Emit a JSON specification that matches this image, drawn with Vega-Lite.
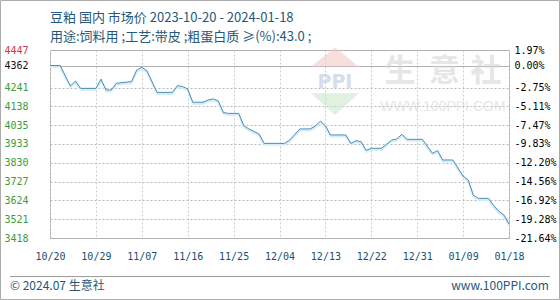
{
  "$schema": "https://vega.github.io/schema/vega-lite/v6.json",
  "width": 459,
  "height": 188,
  "autosize": {"type": "none"},
  "padding": {"left": 50, "top": 50, "right": 51, "bottom": 62},
  "background": "white",
  "config": {"view": {"stroke": "#aaaaaa", "strokeWidth": 1}},
  "title": {
    "text": "豆粕 国内 市场价 2023-10-20 - 2024-01-18",
    "subtitle": "用途:饲料用 ;工艺:带皮 ;粗蛋白质 ≥(%):43.0 ;",
    "anchor": "start",
    "frame": "group",
    "font": "Noto Sans CJK SC",
    "fontSize": 13,
    "fontWeight": "normal",
    "color": "#25587a",
    "subtitleFont": "Noto Sans CJK SC",
    "subtitleFontSize": 13,
    "subtitleColor": "#25587a",
    "subtitlePadding": 6,
    "offset": -44
  },
  "datasets": {
    "prices": [
      {"date": "2023-10-20", "price": 4362},
      {"date": "2023-10-22", "price": 4362},
      {"date": "2023-10-24", "price": 4250},
      {"date": "2023-10-25", "price": 4277},
      {"date": "2023-10-26", "price": 4237},
      {"date": "2023-10-29", "price": 4237},
      {"date": "2023-10-30", "price": 4287},
      {"date": "2023-10-31", "price": 4228},
      {"date": "2023-11-01", "price": 4228},
      {"date": "2023-11-02", "price": 4265},
      {"date": "2023-11-05", "price": 4274},
      {"date": "2023-11-06", "price": 4337},
      {"date": "2023-11-07", "price": 4352},
      {"date": "2023-11-08", "price": 4333},
      {"date": "2023-11-10", "price": 4215},
      {"date": "2023-11-13", "price": 4215},
      {"date": "2023-11-14", "price": 4252},
      {"date": "2023-11-15", "price": 4247},
      {"date": "2023-11-16", "price": 4234},
      {"date": "2023-11-17", "price": 4161},
      {"date": "2023-11-19", "price": 4161},
      {"date": "2023-11-20", "price": 4173},
      {"date": "2023-11-21", "price": 4179},
      {"date": "2023-11-22", "price": 4168},
      {"date": "2023-11-23", "price": 4105},
      {"date": "2023-11-24", "price": 4100},
      {"date": "2023-11-26", "price": 4100},
      {"date": "2023-11-27", "price": 4033},
      {"date": "2023-11-28", "price": 4015},
      {"date": "2023-11-30", "price": 3987},
      {"date": "2023-12-01", "price": 3936},
      {"date": "2023-12-05", "price": 3936},
      {"date": "2023-12-06", "price": 3954},
      {"date": "2023-12-08", "price": 4015},
      {"date": "2023-12-10", "price": 4015},
      {"date": "2023-12-11", "price": 4030},
      {"date": "2023-12-12", "price": 4058},
      {"date": "2023-12-13", "price": 4032},
      {"date": "2023-12-14", "price": 3982},
      {"date": "2023-12-17", "price": 3982},
      {"date": "2023-12-18", "price": 3936},
      {"date": "2023-12-19", "price": 3951},
      {"date": "2023-12-20", "price": 3945},
      {"date": "2023-12-21", "price": 3898},
      {"date": "2023-12-22", "price": 3909},
      {"date": "2023-12-24", "price": 3909},
      {"date": "2023-12-26", "price": 3954},
      {"date": "2023-12-27", "price": 3960},
      {"date": "2023-12-28", "price": 3986},
      {"date": "2023-12-29", "price": 3958},
      {"date": "2024-01-01", "price": 3958},
      {"date": "2024-01-03", "price": 3882},
      {"date": "2024-01-04", "price": 3896},
      {"date": "2024-01-05", "price": 3845},
      {"date": "2024-01-07", "price": 3845},
      {"date": "2024-01-09", "price": 3757},
      {"date": "2024-01-10", "price": 3736},
      {"date": "2024-01-11", "price": 3653},
      {"date": "2024-01-12", "price": 3635},
      {"date": "2024-01-14", "price": 3635},
      {"date": "2024-01-15", "price": 3595},
      {"date": "2024-01-16", "price": 3565},
      {"date": "2024-01-17", "price": 3544},
      {"date": "2024-01-18", "price": 3495}
    ]
  },
  "layer": [
    {
      "data": {"name": "prices"},
      "mark": {"type": "line", "color": "#d3edf8", "strokeWidth": 2, "yOffset": 1.5},
      "encoding": {
        "x": {
          "field": "date", "type": "temporal", "title": null,
          "scale": {"type": "utc", "domain": [{"year": 2023, "month": 10, "date": 20, "utc": true}, {"year": 2024, "month": 1, "date": 18, "utc": true}]}
        },
        "y": {
          "field": "price", "type": "quantitative", "title": null,
          "scale": {"domain": [3418, 4447], "zero": false, "nice": false},
          "axis": {
            "orient": "right",
            "title": null,
            "values": [4447, 4362, 4241, 4138, 4035, 3933, 3830, 3727, 3624, 3521, 3418],
            "labelExpr": "datum.value == 4447 ? '1.97%' : datum.value == 4362 ? '0.00%' : datum.value == 4241 ? '-2.75%' : datum.value == 4138 ? '-5.11%' : datum.value == 4035 ? '-7.47%' : datum.value == 3933 ? '-9.83%' : datum.value == 3830 ? '-12.20%' : datum.value == 3727 ? '-14.56%' : datum.value == 3624 ? '-16.92%' : datum.value == 3521 ? '-19.28%' : '-21.64%'",
            "tickSize": 0,
            "domain": false,
            "grid": false,
            "labelAlign": "left",
            "labelBaseline": "middle",
            "labelPadding": 5,
            "labelOverlap": false,
            "labelFont": "DejaVu Sans Mono",
            "labelFontSize": 10,
            "encode": {"labels": {"update": {"fill": {"signal": "datum.value == 4447 ? '#cc3a4e' : datum.value == 4362 ? '#111111' : '#3d9a3d'"}}}}
          }
        }
      }
    },
    {
      "data": {"name": "prices"},
      "mark": {"type": "line", "color": "#4a8bb5", "strokeWidth": 1},
      "encoding": {
        "x": {
          "field": "date", "type": "temporal", "title": null,
          "scale": {"type": "utc", "domain": [{"year": 2023, "month": 10, "date": 20, "utc": true}, {"year": 2024, "month": 1, "date": 18, "utc": true}]},
          "axis": {
            "title": null,
            "values": [
              {"year": 2023, "month": 10, "date": 20, "utc": true},
              {"year": 2023, "month": 10, "date": 29, "utc": true},
              {"year": 2023, "month": 11, "date": 7, "utc": true},
              {"year": 2023, "month": 11, "date": 16, "utc": true},
              {"year": 2023, "month": 11, "date": 25, "utc": true},
              {"year": 2023, "month": 12, "date": 4, "utc": true},
              {"year": 2023, "month": 12, "date": 13, "utc": true},
              {"year": 2023, "month": 12, "date": 22, "utc": true},
              {"year": 2023, "month": 12, "date": 31, "utc": true},
              {"year": 2024, "month": 1, "date": 9, "utc": true},
              {"year": 2024, "month": 1, "date": 18, "utc": true}
            ],
            "format": "%m/%d",
            "tickSize": 0,
            "domain": false,
            "labelPadding": 13,
            "labelFlush": false,
            "labelOverlap": false,
            "labelFont": "DejaVu Sans Mono",
            "labelFontSize": 10,
            "labelColor": "#204f70",
            "grid": true,
            "gridColor": "#cccccc",
            "gridDash": [2, 2],
            "encode": {"grid": {"update": {"strokeOpacity": {"signal": "datum.index == 0 || datum.index == 1 ? 0 : 1"}}}}
          }
        },
        "y": {
          "field": "price", "type": "quantitative", "title": null,
          "scale": {"domain": [3418, 4447], "zero": false, "nice": false},
          "axis": {
            "orient": "left",
            "title": null,
            "values": [4447, 4362, 4241, 4138, 4035, 3933, 3830, 3727, 3624, 3521, 3418],
            "labelExpr": "format(datum.value, 'd')",
            "tickSize": 0,
            "domain": false,
            "labelAlign": "left",
            "labelBaseline": "middle",
            "labelPadding": 46,
            "labelOverlap": false,
            "labelFont": "DejaVu Sans Mono",
            "labelFontSize": 10,
            "labelColor": {"condition": [{"test": "datum.value == 4447", "value": "#cc3a4e"}, {"test": "datum.value == 4362", "value": "#111111"}], "value": "#3d9a3d"},
            "grid": true,
            "gridColor": {"condition": {"test": "datum.value == 4362", "value": "#999999"}, "value": "#b8b8b8"},
            "gridDash": {"condition": {"test": "datum.value == 4362", "value": [1, 0]}, "value": [2, 2]},
            "gridWidth": 1
          }
        }
      }
    },
    {
      "data": {"values": [{}]},
      "mark": {"type": "point", "shape": "M-1,0.4 L0,-0.4 L1,0.4 Z", "filled": true, "color": "#f0c4c4", "opacity": 0.55, "size": 2304},
      "encoding": {
        "x": {"datum": {"year": 2023, "month": 12, "date": 14, "hours": 21, "utc": true}, "type": "temporal", "title": null},
        "y": {"datum": 4408, "type": "quantitative", "axis": null}
      }
    },
    {
      "data": {"values": [{}]},
      "mark": {"type": "point", "shape": "M-1,-0.45 L1,-0.45 L0,0.45 Z", "filled": true, "color": "#c9e6c9", "opacity": 0.55, "size": 2304},
      "encoding": {
        "x": {"datum": {"year": 2023, "month": 12, "date": 14, "hours": 21, "utc": true}, "type": "temporal", "title": null},
        "y": {"datum": 4151, "type": "quantitative", "axis": null}
      }
    },
    {
      "data": {"values": [{}]},
      "mark": {"type": "text", "text": "PPI", "font": "DejaVu Sans", "fontWeight": "bold", "fontSize": 19, "color": "#b9c9e3", "opacity": 0.6, "baseline": "middle", "align": "center"},
      "encoding": {
        "x": {"datum": {"year": 2023, "month": 12, "date": 14, "hours": 21, "utc": true}, "type": "temporal", "title": null},
        "y": {"datum": 4272, "type": "quantitative", "axis": null}
      }
    },
    {
      "data": {"values": [{}]},
      "mark": {"type": "text", "text": "生", "font": "Noto Sans CJK SC", "fontWeight": "bold", "fontSize": 31, "color": "#d6d6d6", "opacity": 0.6, "baseline": "middle", "align": "center"},
      "encoding": {
        "x": {"datum": {"year": 2023, "month": 12, "date": 27, "hours": 15, "utc": true}, "type": "temporal", "title": null},
        "y": {"datum": 4327, "type": "quantitative", "axis": null}
      }
    },
    {
      "data": {"values": [{}]},
      "mark": {"type": "text", "text": "意", "font": "Noto Sans CJK SC", "fontWeight": "bold", "fontSize": 31, "color": "#d6d6d6", "opacity": 0.6, "baseline": "middle", "align": "center"},
      "encoding": {
        "x": {"datum": {"year": 2024, "month": 1, "date": 5, "hours": 8, "utc": true}, "type": "temporal", "title": null},
        "y": {"datum": 4327, "type": "quantitative", "axis": null}
      }
    },
    {
      "data": {"values": [{}]},
      "mark": {"type": "text", "text": "社", "font": "Noto Sans CJK SC", "fontWeight": "bold", "fontSize": 31, "color": "#d6d6d6", "opacity": 0.6, "baseline": "middle", "align": "center"},
      "encoding": {
        "x": {"datum": {"year": 2024, "month": 1, "date": 13, "hours": 12, "utc": true}, "type": "temporal", "title": null},
        "y": {"datum": 4327, "type": "quantitative", "axis": null}
      }
    },
    {
      "data": {"values": [{}]},
      "mark": {"type": "text", "text": "WWW.100PPI.COM", "font": "Liberation Sans", "fontSize": 14, "color": "#d6d6d6", "opacity": 0.6, "baseline": "middle", "align": "center"},
      "encoding": {
        "x": {"datum": {"year": 2024, "month": 1, "date": 5, "hours": 1, "utc": true}, "type": "temporal", "title": null},
        "y": {"datum": 4135, "type": "quantitative", "axis": null}
      }
    },
    {
      "data": {"values": [{}]},
      "mark": {"type": "rule", "color": "#999999", "strokeWidth": 1},
      "encoding": {
        "x": {"datum": {"year": 2023, "month": 10, "date": 12, "hours": 3, "minutes": 46, "utc": true}, "type": "temporal", "title": null},
        "x2": {"datum": {"year": 2024, "month": 1, "date": 26, "hours": 1, "utc": true}},
        "y": {"datum": 3207, "type": "quantitative", "axis": null}
      }
    },
    {
      "data": {"values": [{}]},
      "mark": {"type": "text", "text": "© 2024.07 生意社", "font": "Noto Sans CJK SC", "fontSize": 12, "color": "#25587a", "baseline": "middle", "align": "left"},
      "encoding": {
        "x": {"datum": {"year": 2023, "month": 10, "date": 12, "hours": 3, "minutes": 46, "utc": true}, "type": "temporal", "title": null},
        "y": {"datum": 3155, "type": "quantitative", "axis": null}
      }
    },
    {
      "data": {"values": [{}]},
      "mark": {"type": "text", "text": "www.100PPI.com", "font": "Noto Sans CJK SC", "fontSize": 12, "color": "#25587a", "baseline": "middle", "align": "right"},
      "encoding": {
        "x": {"datum": {"year": 2024, "month": 1, "date": 25, "hours": 20, "utc": true}, "type": "temporal", "title": null},
        "y": {"datum": 3155, "type": "quantitative", "axis": null}
      }
    },
    {
      "data": {"values": [{}]},
      "mark": {"type": "rect", "fillOpacity": 0, "stroke": "#aaaaaa", "strokeWidth": 1},
      "encoding": {
        "x": {"datum": {"year": 2023, "month": 10, "date": 10, "hours": 7, "minutes": 3, "utc": true}, "type": "temporal", "title": null},
        "x2": {"datum": {"year": 2024, "month": 1, "date": 27, "hours": 21, "minutes": 39, "utc": true}},
        "y": {"datum": 4718, "type": "quantitative", "axis": null},
        "y2": {"datum": 3081}
      }
    }
  ],
  "resolve": {"axis": {"y": "independent"}}
}
